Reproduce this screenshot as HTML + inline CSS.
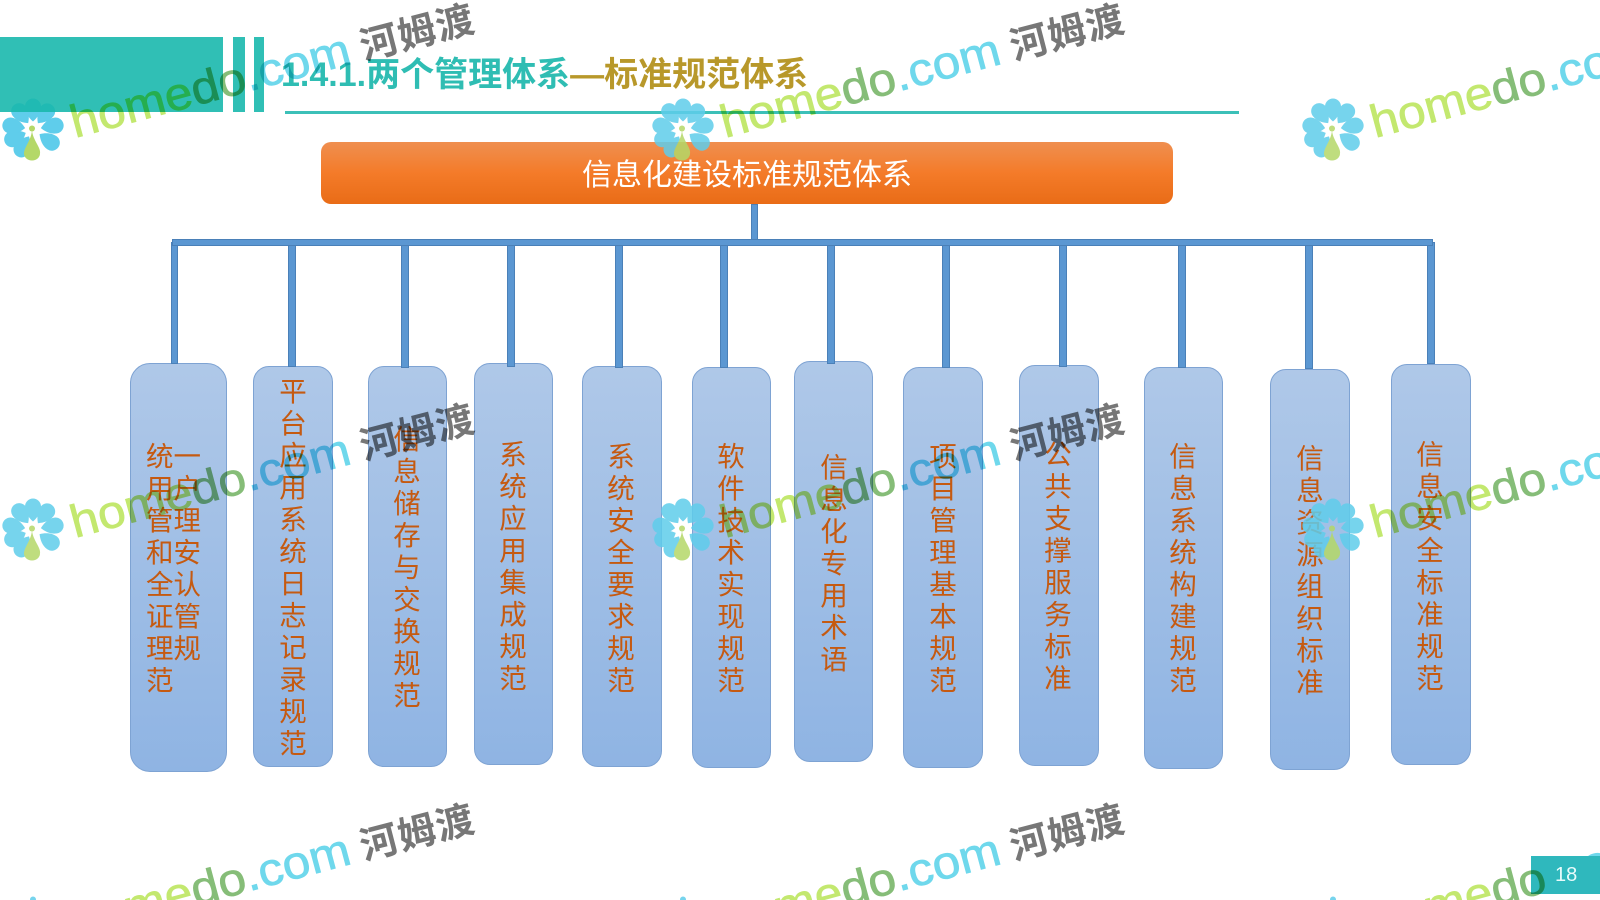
<!DOCTYPE html>
<html lang="zh">
<head>
<meta charset="utf-8">
<title>信息化建设标准规范体系</title>
<style>
html,body{margin:0;padding:0;background:#fff;width:1600px;height:900px;overflow:hidden;}
#p{position:relative;width:1600px;height:900px;overflow:hidden;background:#fff;font-family:"Liberation Sans","Noto Sans CJK SC",sans-serif;}
#p div{position:absolute;box-sizing:border-box;}
.teal{background:rgba(25,184,173,.9);}
.b{background:linear-gradient(#afc8e8,#8fb4e3);border:1px solid #7ea3d3;border-radius:16px;}
.c{background:#5b97d2;border:1px solid #4a80b8;}
.t{font-family:"Noto Sans CJK SC","Liberation Sans",sans-serif;font-size:27.5px;line-height:32px;color:#c55a11;text-align:center;width:28px;word-break:break-all;}
svg{position:absolute;left:0;top:0;}
#wm{mix-blend-mode:multiply;}
.h1{fill:#c3e86f;stroke:#c3e86f;stroke-width:.7px}
.h2{fill:#86bd78;stroke:#86bd78;stroke-width:.7px}
.h3{fill:#6fd8ec;stroke:#6fd8ec;stroke-width:.7px}
.wz{font-family:"Noto Sans CJK SC",sans-serif;font-weight:700;font-size:38px;letter-spacing:1px;fill:#777}
.hm{font-family:"Liberation Sans",sans-serif;font-size:46px}
</style>
</head>
<body>
<div id="p">
<svg width="1600" height="900" viewBox="0 0 1600 900" xmlns="http://www.w3.org/2000/svg">
<defs>
<path id="pt" d="M0,-8C4.5,-12 8,-17 8,-23A8,8 0 0 0 -8,-23C-8,-17 -4.5,-12 0,-8Z" fill="#5fcdeb"/>
<g id="fl">
<use href="#pt" transform="rotate(0)"/><use href="#pt" transform="rotate(38)"/><use href="#pt" transform="rotate(80)"/><use href="#pt" transform="rotate(125)"/><use href="#pt" transform="rotate(-150)"/><use href="#pt" transform="rotate(-115)"/><use href="#pt" transform="rotate(-80)"/><use href="#pt" transform="rotate(-37)"/>
<circle cx="-1" cy="-1" r="3" fill="#b4d868"/>
<path d="M-1,1C0,11 8,18 7,24A8,7 0 0 1 -9,24C-9,18 -2,11 -1,1Z" fill="#b4d868"/>
</g>
</defs>
<use href="#fl" x="33" y="129.5"/>
</svg>
<div class="teal" style="left:0;top:37px;width:223px;height:75px"></div>
<div class="teal" style="left:233px;top:37px;width:12px;height:75px"></div>
<div class="teal" style="left:254px;top:37px;width:10px;height:75px"></div>
<div style="left:285px;top:111px;width:954px;height:2.5px;background:#3cc0b8"></div>
<div style="left:281px;top:57px;height:36px;line-height:36px;font-size:34px;font-weight:bold;white-space:nowrap;color:#2fbdb3">1.4.1.两个管理体系<span style="color:#b8982a">—标准规范体系</span></div>

<div style="left:321px;top:142px;width:852px;height:62px;border-radius:10px;background:linear-gradient(#ef8f50,#f47b29 50%,#e96c17)"></div>
<div style="left:321px;top:150px;width:852px;height:44px;line-height:44px;text-align:center;font-family:'Noto Sans CJK SC',sans-serif;font-size:30px;color:#fff">信息化建设标准规范体系</div>

<div class="c" style="left:751px;top:204px;width:7px;height:37px"></div>

<div class="b" style="left:130px;top:363px;width:97px;height:409px;border-radius:20px"></div>
<div class="b" style="left:253px;top:366px;width:80px;height:401px"></div>
<div class="b" style="left:368px;top:366px;width:79px;height:401px"></div>
<div class="b" style="left:474px;top:363px;width:79px;height:402px"></div>
<div class="b" style="left:582px;top:366px;width:80px;height:401px"></div>
<div class="b" style="left:692px;top:367px;width:79px;height:401px"></div>
<div class="b" style="left:794px;top:361px;width:79px;height:401px"></div>
<div class="b" style="left:903px;top:367px;width:80px;height:401px"></div>
<div class="b" style="left:1019px;top:365px;width:80px;height:401px"></div>
<div class="b" style="left:1144px;top:367px;width:79px;height:402px"></div>
<div class="b" style="left:1270px;top:369px;width:80px;height:401px"></div>
<div class="b" style="left:1391px;top:364px;width:80px;height:401px"></div>

<div class="c" style="left:171px;top:242px;width:7px;height:122px"></div>
<div class="c" style="left:288px;top:244px;width:8px;height:123px"></div>
<div class="c" style="left:401px;top:244px;width:8px;height:124px"></div>
<div class="c" style="left:507px;top:243px;width:8px;height:124px"></div>
<div class="c" style="left:615px;top:244px;width:8px;height:124px"></div>
<div class="c" style="left:720px;top:244px;width:8px;height:124px"></div>
<div class="c" style="left:827px;top:242px;width:8px;height:122px"></div>
<div class="c" style="left:942px;top:244px;width:8px;height:124px"></div>
<div class="c" style="left:1059px;top:244px;width:8px;height:123px"></div>
<div class="c" style="left:1178px;top:244px;width:8px;height:124px"></div>
<div class="c" style="left:1305px;top:244px;width:8px;height:125px"></div>
<div class="c" style="left:1427px;top:242px;width:8px;height:122px"></div>
<div class="c" style="left:172px;top:239px;width:1261px;height:7px"></div>

<div class="t" style="left:146px;top:438px;width:56px;text-align:left">统一用户管理和安全认证管理规范</div>
<div class="t" style="left:279px;top:373px">平台应用系统日志记录规范</div>
<div class="t" style="left:393px;top:421px">信息储存与交换规范</div>
<div class="t" style="left:499px;top:436px">系统应用集成规范</div>
<div class="t" style="left:607px;top:438px">系统安全要求规范</div>
<div class="t" style="left:717px;top:438px">软件技术实现规范</div>
<div class="t" style="left:820px;top:449px">信息化专用术语</div>
<div class="t" style="left:929px;top:438px">项目管理基本规范</div>
<div class="t" style="left:1044px;top:436px">公共支撑服务标准</div>
<div class="t" style="left:1169px;top:438px">信息系统构建规范</div>
<div class="t" style="left:1296px;top:440px">信息资源组织标准</div>
<div class="t" style="left:1416px;top:436px">信息安全标准规范</div>

<svg width="1600" height="900" viewBox="0 0 1600 900" xmlns="http://www.w3.org/2000/svg">
<text class="hm h3" transform="translate(1549,891.4) rotate(-15)" textLength="108" lengthAdjust="spacingAndGlyphs">.com</text>
</svg>
<div style="left:1531px;top:856px;width:69px;height:38px;background:#2fb8bd"></div>
<div style="left:1531px;top:856px;width:69px;height:38px;line-height:38px;padding-left:24px;font-size:20px;color:#e8fbfb">18</div>

<svg width="1600" height="900" viewBox="0 0 1600 900" xmlns="http://www.w3.org/2000/svg" opacity="0.85">
<use href="#fl" x="683" y="129.5"/>
<use href="#fl" x="1333" y="129.5"/>
<use href="#fl" x="33" y="529.5"/>
<use href="#fl" x="683" y="529.5"/>
<use href="#fl" x="1333" y="529.5"/>
<circle cx="33" cy="899.5" r="3" fill="#5fcdeb"/>
<circle cx="683" cy="899.5" r="3" fill="#5fcdeb"/>
<circle cx="1333" cy="899.5" r="3" fill="#5fcdeb"/>
</svg>

<svg id="wm" width="1600" height="900" viewBox="0 0 1600 900" xmlns="http://www.w3.org/2000/svg">
<g transform="translate(0,0)">
<text class="hm" transform="translate(75,138) rotate(-15)" textLength="288" lengthAdjust="spacingAndGlyphs"><tspan class="h1">home</tspan><tspan class="h2">do</tspan><tspan class="h3">.com</tspan></text>
<text class="wz" transform="translate(364,60) rotate(-14.5)">河姆渡</text></g>
<g transform="translate(650,0)">
<text class="hm" transform="translate(75,138) rotate(-15)" textLength="288" lengthAdjust="spacingAndGlyphs"><tspan class="h1">home</tspan><tspan class="h2">do</tspan><tspan class="h3">.com</tspan></text>
<text class="wz" transform="translate(364,60) rotate(-14.5)">河姆渡</text></g>
<g transform="translate(1300,0)">
<text class="hm" transform="translate(75,138) rotate(-15)" textLength="288" lengthAdjust="spacingAndGlyphs"><tspan class="h1">home</tspan><tspan class="h2">do</tspan><tspan class="h3">.com</tspan></text></g>
<g transform="translate(0,400)">
<text class="hm" transform="translate(75,138) rotate(-15)" textLength="288" lengthAdjust="spacingAndGlyphs"><tspan class="h1">home</tspan><tspan class="h2">do</tspan><tspan class="h3">.com</tspan></text>
<text class="wz" transform="translate(364,60) rotate(-14.5)">河姆渡</text></g>
<g transform="translate(650,400)">
<text class="hm" transform="translate(75,138) rotate(-15)" textLength="288" lengthAdjust="spacingAndGlyphs"><tspan class="h1">home</tspan><tspan class="h2">do</tspan><tspan class="h3">.com</tspan></text>
<text class="wz" transform="translate(364,60) rotate(-14.5)">河姆渡</text></g>
<g transform="translate(1300,400)">
<text class="hm" transform="translate(75,138) rotate(-15)" textLength="288" lengthAdjust="spacingAndGlyphs"><tspan class="h1">home</tspan><tspan class="h2">do</tspan><tspan class="h3">.com</tspan></text></g>
<g transform="translate(0,800)">
<text class="hm" transform="translate(75,138) rotate(-15)" textLength="288" lengthAdjust="spacingAndGlyphs"><tspan class="h1">home</tspan><tspan class="h2">do</tspan><tspan class="h3">.com</tspan></text>
<text class="wz" transform="translate(364,60) rotate(-14.5)">河姆渡</text></g>
<g transform="translate(650,800)">
<text class="hm" transform="translate(75,138) rotate(-15)" textLength="288" lengthAdjust="spacingAndGlyphs"><tspan class="h1">home</tspan><tspan class="h2">do</tspan><tspan class="h3">.com</tspan></text>
<text class="wz" transform="translate(364,60) rotate(-14.5)">河姆渡</text></g>
<g transform="translate(1300,800)">
<text class="hm" transform="translate(75,138) rotate(-15)" textLength="180" lengthAdjust="spacingAndGlyphs"><tspan class="h1">home</tspan><tspan class="h2">do</tspan></text></g>
</svg>
</div>
</body>
</html>
